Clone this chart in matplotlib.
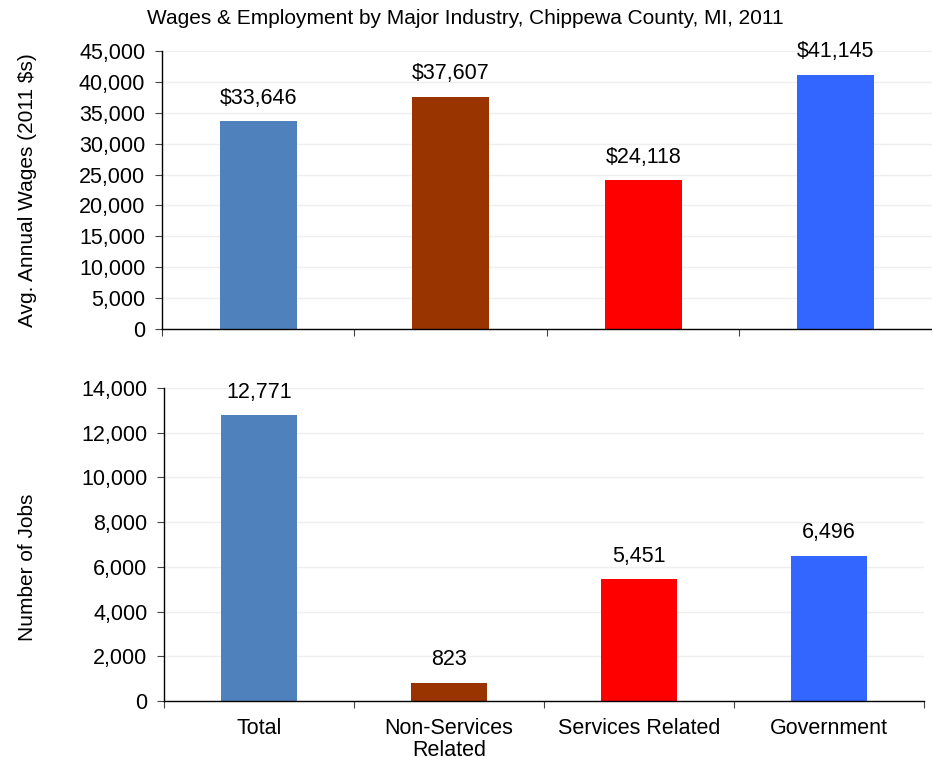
"""Wages and employment by major industry, Chippewa County, MI, 2011."""

import matplotlib

matplotlib.use("Agg")
import matplotlib.pyplot as plt  # noqa: E402
from matplotlib.ticker import FuncFormatter, MultipleLocator  # noqa: E402

plt.rcParams["font.family"] = ["Liberation Sans", "DejaVu Sans"]

categories = ["Total", "Non-Services\nRelated", "Services Related", "Government"]
wages = [33646, 37607, 24118, 41145]
jobs = [12771, 823, 5451, 6496]
colors = ["#4F81BD", "#993300", "#FF0000", "#3366FF"]

FS = 15.5
comma = FuncFormatter(lambda v, _: f"{v:,.0f}")

fig = plt.figure(figsize=(9.32, 7.57), dpi=100)
ax_top = fig.add_axes([0.1738, 0.5654, 0.8262, 0.3672])
ax_bot = fig.add_axes([0.1760, 0.0740, 0.8155, 0.4135])

x = range(len(categories))


def style(ax, ymax, step):
    ax.set_xlim(-0.5, len(categories) - 0.5)
    ax.set_ylim(0, ymax)
    ax.yaxis.set_major_locator(MultipleLocator(step))
    ax.yaxis.set_major_formatter(comma)
    # category separators as major ticks, labels sit on minor ticks
    ax.set_xticks([i - 0.5 for i in range(len(categories) + 1)])
    ax.set_xticklabels([])
    ax.set_xticks(list(x), minor=True)
    ax.tick_params(axis="x", which="minor", length=0, labelsize=FS, pad=12)
    ax.tick_params(axis="x", which="major", length=5, width=0.8, color="#444444")
    ax.tick_params(axis="y", length=5, width=0.8, color="#444444", labelsize=FS, pad=7)
    ax.grid(axis="y", color="#EFEFEF", linewidth=1.0)
    ax.set_axisbelow(True)
    for side in ("top", "right"):
        ax.spines[side].set_visible(False)
    for side in ("left", "bottom"):
        ax.spines[side].set_color("black")
        ax.spines[side].set_linewidth(1.0)


style(ax_top, 45000, 5000)
bars = ax_top.bar(x, wages, width=0.4, color=colors, zorder=2)
for rect, v in zip(bars, wages):
    ax_top.annotate(f"${v:,}", (rect.get_x() + rect.get_width() / 2, v),
                    xytext=(0, 9), textcoords="offset points",
                    ha="center", va="bottom", fontsize=FS)

style(ax_bot, 14000, 2000)
bars = ax_bot.bar(x, jobs, width=0.4, color=colors, zorder=2)
for rect, v in zip(bars, jobs):
    ax_bot.annotate(f"{v:,}", (rect.get_x() + rect.get_width() / 2, v),
                    xytext=(0, 9), textcoords="offset points",
                    ha="center", va="bottom", fontsize=FS)
ax_bot.set_xticklabels(categories, minor=True, linespacing=1.1)

fig.text(0.499, 0.976, "Wages & Employment by Major Industry, Chippewa County, MI, 2011",
         ha="center", va="center", fontsize=15)
fig.text(0.029, 0.749, "Avg. Annual Wages (2011 $s)", rotation=90,
         ha="center", va="center", fontsize=15)
fig.text(0.029, 0.251, "Number of Jobs", rotation=90,
         ha="center", va="center", fontsize=15)

fig.savefig("out.png", dpi=100)
